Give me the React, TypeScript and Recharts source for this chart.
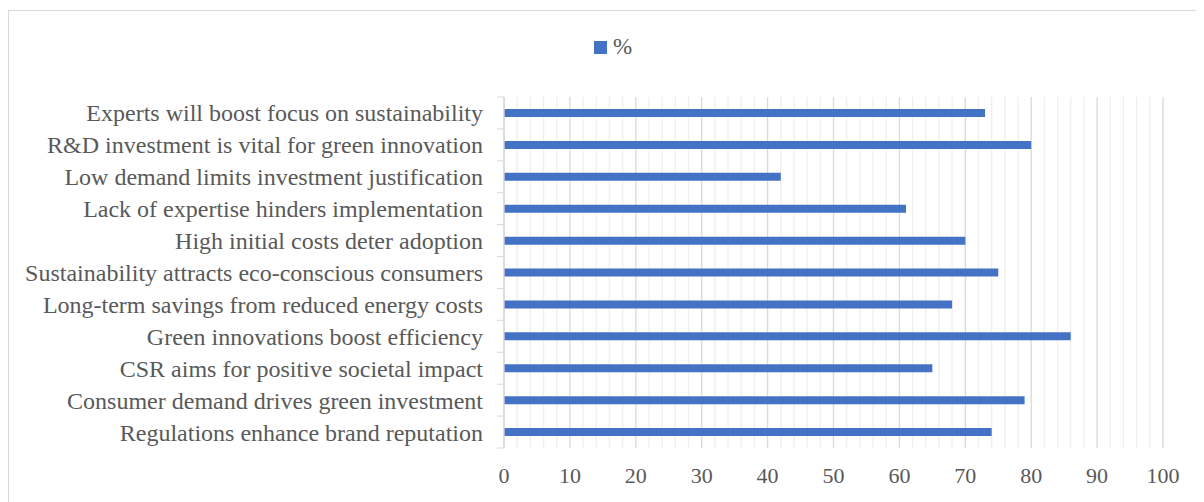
import React from "react";
import { BarChart, Bar, XAxis, YAxis, CartesianGrid, Legend } from "recharts";

const categories = [
  "Experts will boost focus on sustainability",
  "R&D investment is vital for green innovation",
  "Low demand limits investment justification",
  "Lack of expertise hinders implementation",
  "High initial costs deter adoption",
  "Sustainability attracts eco-conscious consumers",
  "Long-term savings from reduced energy costs",
  "Green innovations boost efficiency",
  "CSR aims for positive societal impact",
  "Consumer demand drives green investment",
  "Regulations enhance brand reputation",
];

const percentValues = [73, 80, 42, 61, 70, 75, 68, 86, 65, 79, 74];

const majorTicks = [0, 10, 20, 30, 40, 50, 60, 70, 80, 90, 100];
const minorTicks = [
  2, 4, 6, 8, 12, 14, 16, 18, 22, 24, 26, 28, 32, 34, 36, 38, 42, 44, 46, 48,
  52, 54, 56, 58, 62, 64, 66, 68, 72, 74, 76, 78, 82, 84, 86, 88, 92, 94, 96, 98,
];

const data = categories.map((name, i) => ({ name, pct: percentValues[i] }));

const FONT = '"Liberation Serif", "Times New Roman", serif';
const TEXT = "#595959";
const BAR = "#4472C4";
const GRID_MAJOR = "#d9d9d9";
const GRID_MINOR = "#efefef";

const mapTicks = (values: number[]) => (props: any) => {
  const { xAxis, offset } = props || {};
  const scale = xAxis && typeof xAxis.scale === "function" ? xAxis.scale : null;
  if (scale) return values.map((v) => scale(v));
  return values.map((v) => offset.left + (v / 100) * offset.width);
};

const YTick = (props: any) => {
  const { x, y, payload, index, visibleTicksCount } = props;
  const off = payload && typeof payload.offset === "number" && payload.offset > 0 ? payload.offset : 16;
  const axisX = x + 21;
  const isLast = index === (visibleTicksCount ?? categories.length) - 1;
  return (
    <g>
      <line x1={axisX - 7} x2={axisX} y1={y - off} y2={y - off} stroke={GRID_MAJOR} strokeWidth={1} />
      {isLast && (
        <line x1={axisX - 7} x2={axisX} y1={y + off} y2={y + off} stroke={GRID_MAJOR} strokeWidth={1} />
      )}
      <text x={x} y={y} dy="0.355em" textAnchor="end" fill={TEXT} fontSize={24} fontFamily={FONT}>
        {payload.value}
      </text>
    </g>
  );
};

const LegendContent = () => (
  <div style={{ position: "relative", height: 0 }}>
    <div
      style={{
        position: "absolute",
        left: 0,
        top: 0,
        display: "flex",
        alignItems: "center",
        whiteSpace: "nowrap",
        fontFamily: FONT,
        fontSize: 23,
        lineHeight: "26px",
        color: TEXT,
      }}
    >
      <span style={{ display: "inline-block", width: 13, height: 13, background: BAR, marginRight: 6 }} />
      <span style={{ fontFamily: FONT }}>%</span>
    </div>
  </div>
);

export default function App() {
  return (
    <div style={{ position: "relative", width: 1196, height: 494, overflow: "hidden", background: "#fff" }}>
      <div
        style={{
          position: "absolute",
          left: 0,
          top: 2,
          width: 1300,
          height: 600,
          borderTop: "1.5px solid #d9d9d9",
          borderLeft: "1.5px solid #d9d9d9",
          boxSizing: "border-box",
        }}
      />
      <BarChart
        width={1196}
        height={494}
        data={data}
        layout="vertical"
        margin={{ top: 89, right: 41, bottom: 0, left: 0 }}
        barCategoryGap={0}
      >
        <CartesianGrid
          horizontal={false}
          stroke={GRID_MINOR}
          strokeWidth={1.3}
          verticalCoordinatesGenerator={mapTicks(minorTicks)}
        />
        <CartesianGrid
          horizontal={false}
          stroke={GRID_MAJOR}
          strokeWidth={1.3}
          verticalCoordinatesGenerator={mapTicks(majorTicks)}
        />
        <XAxis
          type="number"
          domain={[0, 100]}
          ticks={majorTicks}
          interval={0}
          axisLine={false}
          tickLine={false}
          tickMargin={13}
          height={54}
          tick={{ fill: TEXT, fontSize: 22, fontFamily: FONT }}
        />
        <YAxis
          type="category"
          dataKey="name"
          width={496}
          interval={0}
          tickLine={false}
          tickSize={7}
          tickMargin={14}
          axisLine={{ stroke: GRID_MAJOR, strokeWidth: 1.3 }}
          tick={<YTick />}
        />
        <Legend
          verticalAlign="top"
          content={<LegendContent />}
          wrapperStyle={{ position: "absolute", left: 586, top: 26, width: 80, height: 0 }}
        />
        <Bar dataKey="pct" name="%" fill={BAR} barSize={8} isAnimationActive={false} />
      </BarChart>
    </div>
  );
}
